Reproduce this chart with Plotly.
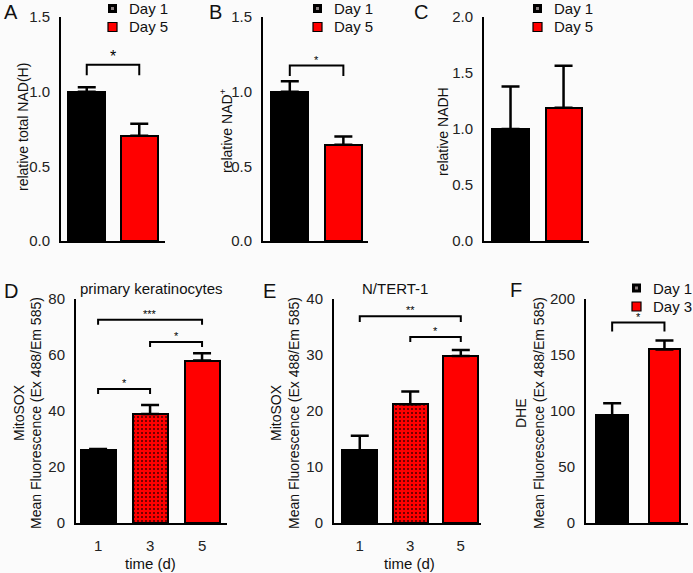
import plotly.graph_objects as go

W, H = 693, 573
FONT = "Liberation Sans, Arial, sans-serif"
RED = "#ff0000"
BLACK = "#000000"

# ---------------- data ----------------
A_x = [0, 1]; A_vals = [1.0, 0.705]; A_err = [0.03, 0.08]
B_x = [0, 1]; B_vals = [1.0, 0.645]; B_err = [0.07, 0.055]
C_x = [0, 1]; C_vals = [1.0, 1.19]; C_err = [0.38, 0.375]
D_x = [1, 3, 5]; D_vals = [26.0, 38.9, 58.0]; D_err = [0.4, 3.2, 2.6]
E_x = [1, 3, 5]; E_vals = [13.0, 21.2, 29.8]; E_err = [2.6, 2.3, 1.1]
F_x = [0, 1]; F_vals = [96, 155]; F_err = [11, 8]

time_ticks = [1, 3, 5]
time_labels = ["1", "3", "5"]

# significance brackets: (x1, x2, top, drop, label)
A_sig = [(0, 1, 1.18, 1.11, "*")]
B_sig = [(0, 1, 1.175, 1.105, "*")]
D_sig = [(1, 5, 72.6, 70.8, "***"), (3, 5, 64.6, 62.9, "*"), (1, 3, 47.9, 46.1, "*")]
E_sig = [(1, 5, 36.9, 35.9, "**"), (3, 5, 33.2, 32.3, "*")]
F_sig = [(0, 1, 179, 171, "*")]

legend_AC = ["Day 1", "Day 5"]
legend_F = ["Day 1", "Day 3"]

fig = go.Figure()

def xd(a, b):
    return [a / W, b / W]

def yd(top, bot):
    return [1 - bot / H, 1 - top / H]

panels = [
    dict(i=1, xp=(61, 165), yp=(17, 241), xr=[-0.49, 1.49], yr=[0, 1.5], yt=[0, 0.5, 1.0, 1.5], fmt=".1f"),
    dict(i=2, xp=(263, 368), yp=(17, 241), xr=[-0.5, 1.46], yr=[0, 1.5], yt=[0, 0.5, 1.0, 1.5], fmt=".1f"),
    dict(i=3, xp=(484, 589), yp=(17, 241), xr=[-0.5, 1.48], yr=[0, 2.0], yt=[0, 0.5, 1.0, 1.5, 2.0], fmt=".1f"),
    dict(i=4, xp=(76, 227), yp=(299, 523), xr=[0.15, 5.96], yr=[0, 80], yt=[0, 20, 40, 60, 80], fmt="d"),
    dict(i=5, xp=(334, 481), yp=(299, 523), xr=[-0.02, 5.8], yr=[0, 40], yt=[0, 10, 20, 30, 40], fmt="d"),
    dict(i=6, xp=(586, 688), yp=(299, 523), xr=[-0.5, 1.45], yr=[0, 200], yt=[0, 50, 100, 150, 200], fmt="d"),
]

layout_axes = {}
for p in panels:
    n = "" if p["i"] == 1 else str(p["i"])
    xa = dict(domain=xd(*p["xp"]), range=p["xr"], showline=True, linecolor=BLACK, linewidth=2,
              showgrid=False, zeroline=False, ticks="", anchor="y" + n, fixedrange=True,
              automargin=False)
    if p["i"] in (4, 5):
        xa.update(tickvals=time_ticks, ticktext=time_labels, showticklabels=True,
                  tickfont=dict(family=FONT, size=15, color="#222"), ticklabelstandoff=8)
    else:
        xa.update(showticklabels=False)
    ya = dict(domain=yd(*p["yp"]), range=p["yr"], showline=True, linecolor=BLACK, linewidth=2,
              showgrid=False, zeroline=False, ticks="", tickvals=p["yt"], tickformat=p["fmt"],
              tickfont=dict(family=FONT, size=15, color="#222"), ticklabelstandoff=6,
              anchor="x" + n, fixedrange=True, automargin=False)
    layout_axes["xaxis" + n] = xa
    layout_axes["yaxis" + n] = ya


def add_bars(i, xs, vals, errs, colors, width, patterns=None):
    n = "" if i == 1 else str(i)
    for k in range(len(xs)):
        marker = dict(color=colors[k], line=dict(color=BLACK, width=2))
        if patterns is not None and patterns[k]:
            marker["pattern"] = dict(shape=patterns[k], fgcolor="#300000", fgopacity=0.85,
                                     size=4, solidity=0.22, fillmode="overlay")
        fig.add_trace(go.Bar(
            x=[xs[k]], y=[vals[k]], width=width, marker=marker, showlegend=False,
            error_y=dict(type="data", symmetric=False, array=[errs[k]], arrayminus=[0],
                         color=BLACK, thickness=2.5, width=9),
            xaxis="x" + n, yaxis="y" + n, hoverinfo="skip"))


def add_sig(i, sigs, size):
    n = "" if i == 1 else str(i)
    for x1, x2, top, drop, lab in sigs:
        fig.add_trace(go.Scatter(x=[x1, x1, x2, x2], y=[drop, top, top, drop], mode="lines",
                                 line=dict(color=BLACK, width=2), showlegend=False,
                                 xaxis="x" + n, yaxis="y" + n, hoverinfo="skip"))
        fig.add_annotation(x=(x1 + x2) / 2, y=top, xref="x" + n, yref="y" + n, text=lab,
                           showarrow=False, yanchor="bottom", yshift=-2,
                           font=dict(family=FONT, size=size, color=BLACK))


add_bars(1, A_x, A_vals, A_err, [BLACK, RED], 0.70)
add_bars(2, B_x, B_vals, B_err, [BLACK, RED], 0.69)
add_bars(3, C_x, C_vals, C_err, [BLACK, RED], 0.68)
add_bars(4, D_x, D_vals, D_err, [BLACK, RED, RED], 1.35, patterns=["", ".", ""])
add_bars(5, E_x, E_vals, E_err, [BLACK, RED, RED], 1.38, patterns=["", ".", ""])
add_bars(6, F_x, F_vals, F_err, [BLACK, RED], 0.6)

add_sig(1, A_sig, 16)
add_sig(2, B_sig, 11)
add_sig(4, D_sig, 11)
add_sig(5, E_sig, 11)
add_sig(6, F_sig, 11)


def ann(text, x, y, size=14, angle=0, xanchor="center", yanchor="middle", color="#111"):
    fig.add_annotation(text=text, x=x / W, y=1 - y / H, xref="paper", yref="paper",
                       showarrow=False, textangle=angle, xanchor=xanchor, yanchor=yanchor,
                       font=dict(family=FONT, size=size, color=color))


def rect(x0, y0, x1, y1, fill, lw=0, lc=BLACK):
    fig.add_shape(type="rect", xref="paper", yref="paper",
                  x0=x0 / W, x1=x1 / W, y0=1 - y1 / H, y1=1 - y0 / H,
                  fillcolor=fill, line=dict(color=lc, width=lw))


# legends drawn as keys (marker left x, first row centre y)
def legend(names, mx, y0, dy=18.5):
    for k, name in enumerate(names):
        cy = y0 + k * dy
        if k == 0:
            rect(mx, cy - 4.5, mx + 9, cy + 4.5, BLACK)
            rect(mx + 3, cy - 1.5, mx + 6, cy + 1.5, "#8a7f80")
        else:
            rect(mx, cy - 4.5, mx + 9, cy + 4.5, RED, lw=1.2)
        ann(name, mx + 19, cy, size=15, xanchor="left")


legend(legend_AC, 108, 8.5)
legend(legend_AC, 313, 8.5)
legend(legend_AC, 533, 8.5)
legend(legend_F, 632, 288)

# panel letters
ann("A", 2, 12, size=20, xanchor="left")
ann("B", 207, 12, size=20, xanchor="left")
ann("C", 412, 12, size=20, xanchor="left")
ann("D", 2, 291, size=20, xanchor="left")
ann("E", 261, 291, size=20, xanchor="left")
ann("F", 508, 290, size=20, xanchor="left")

# y-axis titles
ann("relative total NAD(H)", 23, 127, angle=-90)
ann("relative NAD<sup>+</sup>", 226, 131, angle=-90)
ann("relative NADH", 443, 132, angle=-90)
ann("MitoSOX", 19, 413, angle=-90)
ann("Mean Fluorescence (Ex 488/Em 585)", 36, 413, angle=-90)
ann("MitoSOX", 276, 413, angle=-90)
ann("Mean Fluorescence (Ex 488/Em 585)", 294, 413, angle=-90)
ann("DHE", 521, 413, angle=-90)
ann("Mean Fluorescence (Ex 488/Em 585)", 539, 413, angle=-90)

# panel titles
ann("primary keratinocytes", 151, 288, size=15)
ann("N/TERT-1", 395, 288, size=15)

# x-axis titles
ann("time (d)", 150, 563, size=15)
ann("time (d)", 409, 563, size=15)

fig.update_layout(
    width=W, height=H, autosize=False,
    margin=dict(l=0, r=0, t=0, b=0, pad=0, autoexpand=False),
    paper_bgcolor="#fbfbfb", plot_bgcolor="rgba(0,0,0,0)",
    barmode="overlay", bargap=0, showlegend=False,
    **layout_axes,
)

fig.write_html("out.html", config={"displayModeBar": False},
               post_script="document.body.style.margin='0';document.body.style.overflow='hidden';")
